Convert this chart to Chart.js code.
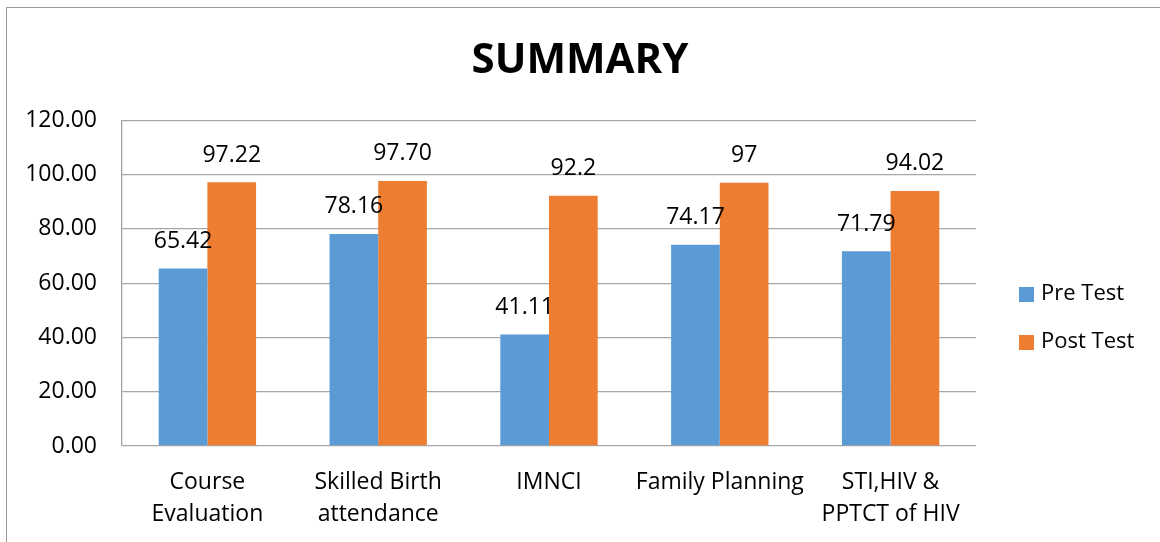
<!DOCTYPE html>
<html>
<head>
<meta charset="utf-8">
<script src="https://cdn.jsdelivr.net/npm/chart.js@4.4.1/dist/chart.umd.min.js"></script>
<style>
  html, body { margin: 0; padding: 0; background: #fff; }
  #wrap { position: relative; width: 1160px; height: 542px; }
  #frame { position: absolute; left: 6px; top: 7px; width: 1160px; height: 600px;
           border-left: 1px solid #9a9a9a; border-top: 1px solid #9a9a9a; box-sizing: border-box; }
  canvas { position: absolute; left: 0; top: 0; }
</style>
</head>
<body>
<div id="wrap">
  <div id="frame"></div>
  <canvas id="summary-chart" width="1160" height="542"></canvas>
</div>
<script>
const categories = [['Course', 'Evaluation'], ['Skilled Birth', 'attendance'], 'IMNCI', 'Family Planning', ['STI,HIV &', 'PPTCT of HIV']];
const preTest = [65.42, 78.16, 41.11, 74.17, 71.79];
const postTest = [97.22, 97.70, 92.2, 97, 94.02];
const preLabels = ['65.42', '78.16', '41.11', '74.17', '71.79'];
const postLabels = ['97.22', '97.70', '92.2', '97', '94.02'];
const yTicks = [0, 20, 40, 60, 80, 100, 120];

const font = "'Open Sans', 'Liberation Sans', sans-serif";

// value labels above each bar
const valueLabels = {
  id: 'valueLabels',
  afterDatasetsDraw(chart) {
    const c = chart.ctx;
    c.save();
    c.font = '23px ' + font;
    c.fillStyle = '#000';
    c.textAlign = 'center';
    c.textBaseline = 'middle';
    chart.data.datasets.forEach((ds, i) => {
      chart.getDatasetMeta(i).data.forEach((bar, j) => {
        c.fillText(ds.valueText[j], bar.x, bar.y - 27);
      });
    });
    c.restore();
  }
};

// legend on the right, drawn by hand
const sideLegend = {
  id: 'sideLegend',
  afterDraw(chart) {
    const c = chart.ctx;
    c.save();
    c.font = '22px ' + font;
    c.textBaseline = 'middle';
    chart.data.datasets.forEach((ds, i) => {
      const y = 294 + i * 48;
      c.fillStyle = ds.backgroundColor;
      c.fillRect(1019, y - 7, 15, 15);
      c.fillStyle = '#000';
      c.fillText(ds.label, 1041, y);
    });
    c.restore();
  }
};

const ctx = document.getElementById('summary-chart');
new Chart(ctx, {
  type: 'bar',
  data: {
    labels: categories,
    datasets: [{
      label: 'Pre Test',
      data: preTest,
      valueText: preLabels,
      backgroundColor: '#5b9bd5',
      categoryPercentage: 0.57,
      barPercentage: 1.0
    }, {
      label: 'Post Test',
      data: postTest,
      valueText: postLabels,
      backgroundColor: '#ed7d31',
      categoryPercentage: 0.57,
      barPercentage: 1.0
    }]
  },
  options: {
    responsive: false,
    animation: false,
    layout: {
      padding: { top: 7, right: 0, bottom: 0, left: 0 }
    },
    plugins: {
      legend: { display: false },
      tooltip: { enabled: false },
      title: {
        display: true,
        text: 'SUMMARY',
        color: '#000',
        font: { family: font, size: 42, weight: 'bold', lineHeight: 1.2 },
        padding: { top: 29, bottom: 34 }
      }
    },
    scales: {
      x: {
        grid: { display: false },
        border: { display: false },
        ticks: {
          color: '#000',
          font: { family: font, size: 23, lineHeight: 1.4 },
          padding: 12,
          maxRotation: 0,
          autoSkip: false
        },
        afterFit(s) { s.height = 96; }
      },
      y: {
        min: 0,
        max: 120,
        afterBuildTicks(s) { s.ticks = yTicks.map(v => ({ value: v })); },
        grid: { color: '#a6a6a6', lineWidth: 1.3, drawTicks: false },
        border: { display: true, color: '#a6a6a6', width: 1.3 },
        ticks: {
          color: '#000',
          font: { family: font, size: 23 },
          padding: 25,
          callback: v => Number(v).toFixed(2)
        },
        afterFit(s) { s.width = 122; }
      },
      // empty right-hand axis that only reserves room for the legend
      legendSpace: {
        position: 'right',
        min: 0,
        max: 120,
        grid: { display: false, drawOnChartArea: false },
        border: { display: false },
        ticks: { display: false },
        afterFit(s) { s.width = 184; }
      }
    }
  },
  plugins: [valueLabels, sideLegend]
});
</script>
</body>
</html>
